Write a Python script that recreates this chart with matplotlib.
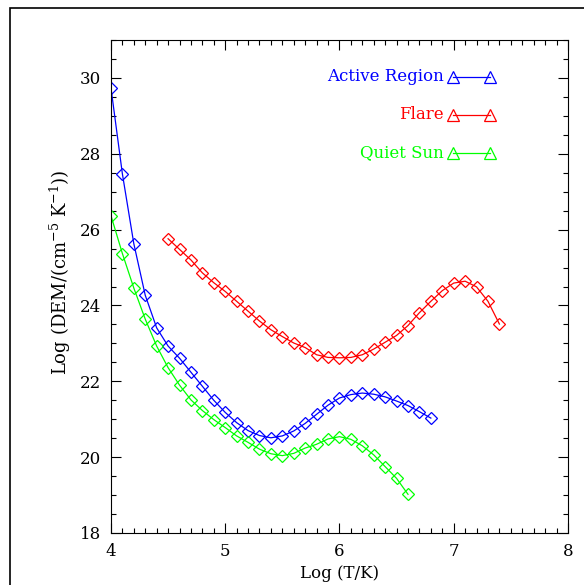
import numpy as np
import matplotlib
matplotlib.use('Agg')
import matplotlib.pyplot as plt
from matplotlib.ticker import MultipleLocator
from matplotlib.patches import Rectangle

plt.rcParams['font.family'] = ['DejaVu Serif']
plt.rcParams['mathtext.fontset'] = 'dejavuserif'

# Active Region
logt_ar = np.round(np.arange(4.0, 6.81, 0.1), 1)
dem_ar = [29.74, 27.47, 25.63, 24.27, 23.41, 22.93, 22.61, 22.24, 21.87, 21.50,
          21.18, 20.91, 20.70, 20.57, 20.51, 20.56, 20.69, 20.89, 21.13, 21.37,
          21.56, 21.65, 21.69, 21.66, 21.59, 21.48, 21.36, 21.20, 21.03]

# Flare
logt_fl = np.round(np.arange(4.5, 7.41, 0.1), 1)
dem_fl = [25.76, 25.48, 25.20, 24.86, 24.60, 24.37, 24.11, 23.85, 23.59, 23.36,
          23.18, 23.01, 22.89, 22.70, 22.63, 22.62, 22.63, 22.70, 22.85, 23.03,
          23.21, 23.47, 23.81, 24.11, 24.39, 24.59, 24.64, 24.49, 24.11, 23.51]

# Quiet Sun
logt_qs = np.round(np.arange(4.0, 6.61, 0.1), 1)
dem_qs = [26.37, 25.37, 24.46, 23.64, 22.93, 22.36, 21.90, 21.51, 21.23, 20.99,
          20.78, 20.56, 20.39, 20.21, 20.09, 20.04, 20.10, 20.24, 20.34, 20.48,
          20.54, 20.47, 20.30, 20.06, 19.75, 19.44, 19.02]

series = [("Active Region", logt_ar, dem_ar, (0, 0, 1)),
          ("Flare", logt_fl, dem_fl, (1, 0, 0)),
          ("Quiet Sun", logt_qs, dem_qs, (0, 1, 0))]

fig = plt.figure(figsize=(5.84, 5.85), dpi=100)
ax = fig.add_axes([0.190, 0.0889, 0.7825, 0.8427])

for name, x, y, c in series:
    ax.plot(x, y, '-', color=c, lw=0.9, marker='D', ms=6, mfc='none', mec=c, mew=0.9)

# legend drawn by hand (text left of a triangle-line-triangle)
rows = [0.925, 0.848, 0.771]
for (name, x, y, c), yr in zip(series, rows):
    ax.text(0.728, yr, name, color=c, fontsize=12, ha='right', va='center',
            transform=ax.transAxes)
    ax.plot([0.748, 0.829], [yr, yr], '-', color=c, lw=0.9, marker='^', ms=8,
            mfc='none', mec=c, mew=0.9, transform=ax.transAxes, clip_on=False)

ax.set_xlim(4, 8)
ax.set_ylim(18, 31)
ax.xaxis.set_major_locator(MultipleLocator(1))
ax.xaxis.set_minor_locator(MultipleLocator(0.1))
ax.yaxis.set_major_locator(MultipleLocator(2))
ax.yaxis.set_minor_locator(MultipleLocator(0.5))
ax.tick_params(which='both', direction='in', top=True, right=True, labelsize=12, width=0.8)
ax.tick_params(which='major', length=7, pad=7)
ax.tick_params(which='minor', length=3.5)
for s in ax.spines.values():
    s.set_linewidth(0.8)

ax.set_xlabel('Log (T/K)', fontsize=12, labelpad=4)
ax.set_ylabel(r'Log (DEM/(cm$^{-5}$ K$^{-1}$))', fontsize=13)
ax.yaxis.set_label_coords(-0.083, 0.529)

# outer frame
fig.patches.append(Rectangle((10 / 584, -0.1), 1.2, 0.1 + 1 - 8 / 585, fill=False,
                             lw=1.2, ec='black', transform=fig.transFigure))

fig.savefig('out.png', dpi=100)
